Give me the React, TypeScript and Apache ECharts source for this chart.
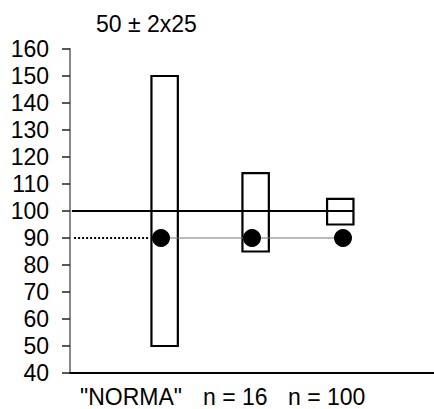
import React, { useEffect, useRef } from "react";
import * as echarts from "echarts";

const titleText = "50 ± 2x25";
const groupLabels = ['"NORMA"', "n = 16", "n = 100"];
const boxX = [1.04, 2.04, 2.97];
const boxLow = [50, 85, 95];
const boxHigh = [150, 114, 104.5];
const pointX = [1, 2, 3];
const pointY = [90, 90, 90];
const refLine100 = [[0.02, 100], [3.11, 100]];
const dottedLine90 = [[0.045, 90], [0.88, 90]];

const FONT = "'Liberation Sans', Arial, sans-serif";

export default function App() {
  const ref = useRef<HTMLDivElement>(null);
  useEffect(() => {
    if (!ref.current) return;
    const chart = echarts.init(ref.current, null, { renderer: "svg" });
    const boxData = boxX.map((x, i) => [x, boxLow[i], boxHigh[i]]);
    const labelLeft = [80, 203, 288];
    chart.setOption({
      animation: false,
      grid: { left: 70, right: 0, top: 49, bottom: 36 },
      xAxis: {
        type: "value",
        min: 0,
        max: 4,
        axisLine: { show: true, onZero: false, lineStyle: { color: "#000", width: 2 } },
        axisTick: { show: false },
        axisLabel: { show: false },
        splitLine: { show: false },
      },
      yAxis: {
        type: "value",
        min: 40,
        max: 160,
        interval: 10,
        axisLine: { show: true, lineStyle: { color: "#888", width: 2 } },
        axisTick: { show: true, length: 8, lineStyle: { color: "#222", width: 1.5 } },
        axisLabel: { color: "#000", fontSize: 23, fontFamily: FONT, margin: 21 },
        splitLine: { show: false },
      },
      graphic: [
        {
          type: "text",
          left: 96,
          top: 12,
          style: { text: titleText, fontSize: 23, fontFamily: FONT, fill: "#000" },
        },
        ...groupLabels.map((t, i) => ({
          type: "text",
          left: labelLeft[i],
          top: 385,
          style: { text: t, fontSize: 23, lineHeight: 22, fontFamily: FONT, fill: "#000" },
        })),
      ],
      series: [
        {
          type: "custom",
          data: boxData,
          z: 1,
          renderItem: (params: any, api: any) => {
            const x = api.value(0);
            const lo = api.value(1);
            const hi = api.value(2);
            const p1 = api.coord([x, hi]);
            const p2 = api.coord([x, lo]);
            const w = api.size([0.29, 0])[0];
            return {
              type: "rect",
              shape: { x: p1[0] - w / 2, y: p1[1], width: w, height: p2[1] - p1[1] },
              style: { fill: "#fff", stroke: "#000", lineWidth: 2.2 },
            };
          },
        },
        {
          type: "line",
          data: refLine100,
          z: 3,
          symbol: "none",
          lineStyle: { color: "#000", width: 2 },
        },
        {
          type: "line",
          data: dottedLine90,
          z: 3,
          symbol: "none",
          lineStyle: { color: "#000", width: 2, type: [2, 2] },
        },
        {
          type: "line",
          data: pointX.map((x, i) => [x, pointY[i]]),
          z: 4,
          symbol: "circle",
          symbolSize: 18,
          itemStyle: { color: "#000" },
          lineStyle: { color: "#777", width: 1 },
        },
      ],
    });
    return () => chart.dispose();
  }, []);
  return (
    <div
      ref={ref}
      style={{ position: "absolute", left: 0, top: 0, width: 434, height: 409 }}
    />
  );
}
